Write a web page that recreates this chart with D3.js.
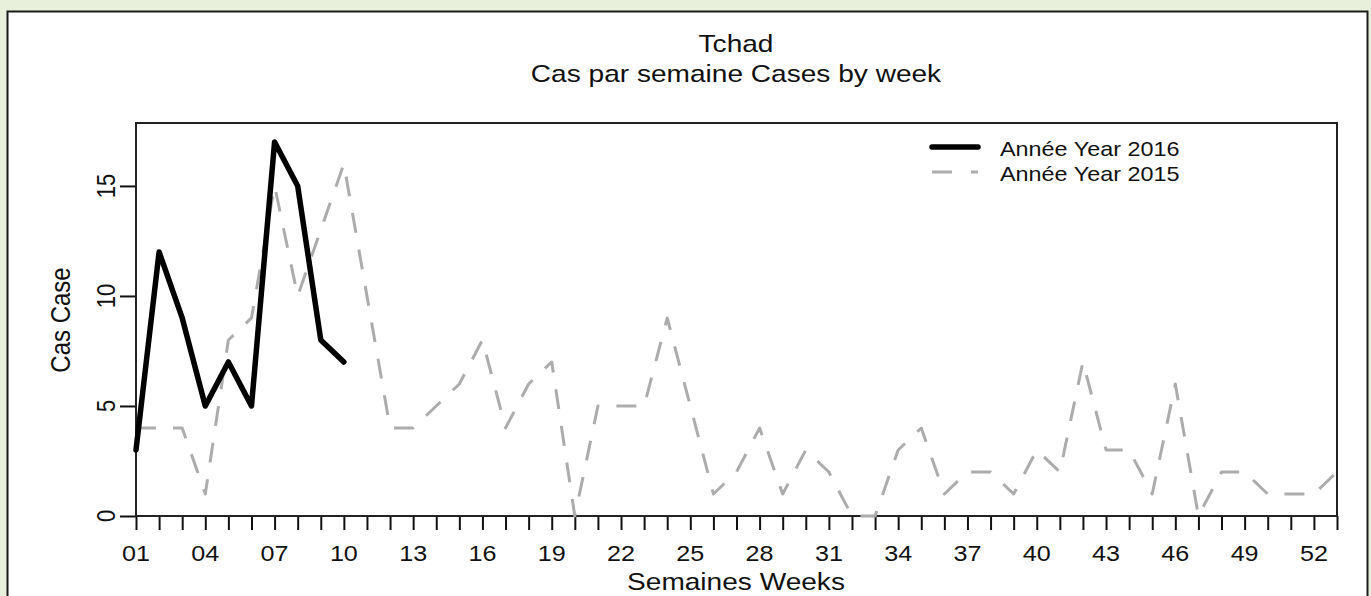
<!DOCTYPE html>
<html>
<head>
<meta charset="utf-8">
<script src="https://cdn.jsdelivr.net/npm/d3@7"></script>
<style>
  body { margin: 0; background: #e8f0dc; overflow: hidden; }
  svg { display: block; }
  text { font-family: Arial, 'Liberation Sans', sans-serif; fill: #111; }
</style>
</head>
<body>
<svg id="chart" width="1371" height="596"></svg>
<script>
// cases per week
var weeks = d3.range(1, 54)
var cases2016 = [3, 12, 9, 5, 7, 5, 17, 15, 8, 7]
var cases2015 = [4, 4, 4, 1, 8, 9, 15, 10, 13, 16, 10, 4, 4, 5, 6, 8, 4, 6, 7, 0,
  5, 5, 5, 9, 5, 1, 2, 4, 1, 3, 2, 0, 0, 3, 4, 1, 2, 2, 1, 3, 2, 7, 3, 3, 1, 6, 0,
  2, 2, 1, 1, 1, 2]
var weekLabels = ['01', '04', '07', '10', '13', '16', '19', '22', '25', '28', '31',
  '34', '37', '40', '43', '46', '49', '52']
var yTicks = [0, 5, 10, 15]
var legendLabels = ['Année Year 2016', 'Année Year 2015']

var sx = 1.17 // picture is stretched sideways a bit
var plotL = 136, plotR = 1337, plotT = 123, plotB = 516

var svg = d3.select('#chart')

// white panel
svg.append('rect')
  .attr('x', 7.5).attr('y', 11.5)
  .attr('width', 1360).attr('height', 620)
  .attr('fill', '#fff')
  .attr('stroke', '#1a1a1a')
  .attr('stroke-width', 2)

var x = d3.scaleLinear().domain([1, 53]).range([plotL, plotR])
var y = d3.scaleLinear().domain([0, 17.86]).range([plotB, plotT])

function txt (str, px, py, size, rot) {
  var t = 'translate(' + px + ',' + py + ')'
  t += rot ? ' rotate(-90) scale(1,' + sx + ')' : ' scale(' + sx + ',1)'
  return svg.append('text').text(str)
    .attr('transform', t)
    .attr('text-anchor', 'middle')
    .style('font-size', size + 'px')
}

// titles
txt('Tchad', 736, 52, 24)
txt('Cas par semaine Cases by week', 736, 82, 24)
txt('Semaines Weeks', 736, 590, 24)
txt('Cas Case', 70, 320, 24, true)

// x axis
var xAxis = d3.axisBottom(x)
  .tickValues(weeks)
  .tickSize(14)
  .tickFormat('')
var gx = svg.append('g').attr('transform', 'translate(0,' + plotB + ')').call(xAxis)
gx.select('.domain').remove()
gx.selectAll('.tick line').attr('stroke', '#111').attr('stroke-width', 2)

weekLabels.forEach(function (lab) {
  txt(lab, x(+lab), 561, 21.5)
})

// y axis
var yAxis = d3.axisLeft(y).tickValues(yTicks).tickSize(16).tickFormat('')
var gy = svg.append('g').attr('transform', 'translate(' + plotL + ',0)').call(yAxis)
gy.select('.domain').remove()
gy.selectAll('.tick line').attr('stroke', '#111').attr('stroke-width', 2)

yTicks.forEach(function (v) {
  txt(String(v), 115, y(v), 22, true)
})

// box
svg.append('rect')
  .attr('x', plotL).attr('y', plotT)
  .attr('width', plotR - plotL).attr('height', plotB - plotT)
  .attr('fill', 'none')
  .attr('stroke', '#222')
  .attr('stroke-width', 2)

var line = d3.line()
  .x(function (d, i) { return x(weeks[i]) })
  .y(function (d) { return y(d) })

svg.append('path')
  .datum(cases2015)
  .attr('d', line)
  .attr('fill', 'none')
  .attr('stroke', '#acacac')
  .attr('stroke-width', 3)
  .attr('stroke-dasharray', '20,17')
  .attr('stroke-linejoin', 'round')

svg.append('path')
  .datum(cases2016)
  .attr('d', line)
  .attr('fill', 'none')
  .attr('stroke', '#000')
  .attr('stroke-width', 5.5)
  .attr('stroke-linejoin', 'round')
  .attr('stroke-linecap', 'round')

// legend
var legStyles = [
  { stroke: '#000', width: 5.5, dash: null },
  { stroke: '#acacac', width: 3, dash: '20,19' }
]
legendLabels.forEach(function (lab, i) {
  var ly = 147 + i * 25
  svg.append('line')
    .attr('x1', 932).attr('x2', 978)
    .attr('y1', ly).attr('y2', ly)
    .attr('stroke', legStyles[i].stroke)
    .attr('stroke-width', legStyles[i].width)
    .attr('stroke-dasharray', legStyles[i].dash)
    .attr('stroke-linecap', i === 0 ? 'round' : 'butt')
  txt(lab, 1000, ly + 9, 20).attr('text-anchor', 'start')
})
</script>
</body>
</html>
